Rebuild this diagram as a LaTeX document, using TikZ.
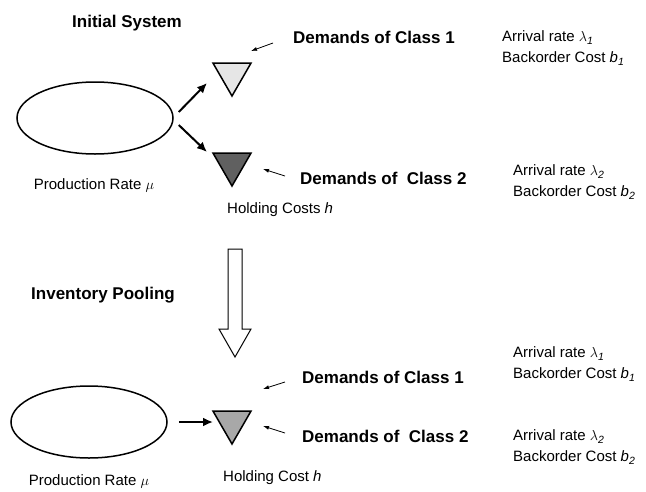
\documentclass[tikz,border=0pt]{standalone}
\usepackage{fontspec}
\setmainfont{Liberation Sans}
\usepackage{amsmath}
\usepackage{xcolor}
\usetikzlibrary{arrows.meta}
\usetikzlibrary{positioning}
\usetikzlibrary{shapes.geometric}

\definecolor{stocklight}{HTML}{E6E6E6}
\definecolor{stockdark}{HTML}{606060}
\definecolor{stockmid}{HTML}{A8A8A8}

\begin{document}
\begin{tikzpicture}[x=1pt, y=-1pt,
        plant/.style={draw, ellipse, line width=1.5pt, minimum width=156pt, minimum height=72pt},
        stock/.style={draw, regular polygon, regular polygon sides=3, shape border rotate=180, line width=1.5pt, inner sep=0pt, minimum size=44pt},
        flow/.style={-{Latex[length=10pt, width=9pt]}, line width=2pt},
        demand/.style={-{Latex[length=6pt, width=4pt]}, line width=0.8pt},
        heading/.style={font=\fontsize{17}{20}\selectfont\bfseries},
        lbl/.style={inner sep=0pt, font=\fontsize{15}{21}\selectfont},
        demlbl/.style={anchor=west, inner sep=0pt, font=\fontsize{17}{20}\selectfont\bfseries},
        parlbl/.style={anchor=west, inner sep=0pt, align=left, font=\fontsize{15}{21}\selectfont}]
    \useasboundingbox (0,0) rectangle (646,491);

    % initial system
    \node[heading] (title1) at (127,23) {Initial System};
    \node[plant] (ell1) at (95,118) {};
    \node[stock, fill=stocklight] (tri1) at (232,74) {};
    \node[stock, fill=stockdark] (tri2) at (232,164) {};
    \node[lbl] (prod1) at (94,185) {Production Rate $\mu$};
    \node[lbl, anchor=west] (hold1) at (227,210) {Holding Costs \textit{h}};
    \node[demlbl] (dem1) at (293,37) {Demands of Class 1};
    \node[demlbl] (dem2) at (300,178) {Demands of\ \ Class 2};
    \node[parlbl] (par1) at (502,48) {Arrival rate $\lambda$\textsubscript{\textit{1}}\\Backorder Cost \textit{b}\textsubscript{\textit{1}}};
    \node[parlbl] (par2) at (513,182) {Arrival rate $\lambda$\textsubscript{\textit{2}}\\Backorder Cost \textit{b}\textsubscript{\textit{2}}};

    \draw[flow] ([shift={(5,-6)}]ell1.east) -- ([shift={(-25,9)}]tri1.center);
    \draw[flow] ([shift={(5,7)}]ell1.east) -- ([shift={(-25,-12)}]tri2.center);
    \draw[demand] ([shift={(-20,6)}]dem1.west) -- ([shift={(19,-23)}]tri1.center);
    \draw[demand] ([shift={(-15,-2)}]dem2.west) -- ([shift={(31,5)}]tri2.center);

    % pooling step
    \coordinate (pooltop) at (235,249);
    \coordinate (poolend) at (235,357);
    \draw[line width=1pt, fill=white] ([xshift=-7]pooltop) -- ++(14,0) -- ++(0,80) -- ++(9,0) -- (poolend) -- ++(-16,-28) -- ++(9,0) -- cycle;
    \node[heading] (title2) at (103,295) {Inventory Pooling};

    % pooled system
    \node[plant] (ell2) at (89,422) {};
    \node[stock, fill=stockmid] (tri3) at (232,422) {};
    \node[lbl] (prod2) at (89,481) {Production Rate $\mu$};
    \node[lbl, anchor=west] (hold2) at (223,478) {Holding Cost \textit{h}};
    \node[demlbl] (dem3) at (302,377) {Demands of Class 1};
    \node[demlbl] (dem4) at (302,436) {Demands of\ \ Class 2};
    \node[parlbl] (par3) at (513,364) {Arrival rate $\lambda$\textsubscript{\textit{1}}\\Backorder Cost \textit{b}\textsubscript{\textit{1}}};
    \node[parlbl] (par4) at (513,447) {Arrival rate $\lambda$\textsubscript{\textit{2}}\\Backorder Cost \textit{b}\textsubscript{\textit{2}}};

    \draw[flow] ([xshift=11]ell2.east) -- ([xshift=-19]tri3.center);
    \draw[demand] ([shift={(-17,5)}]dem3.west) -- ([shift={(31,-33)}]tri3.center);
    \draw[demand] ([shift={(-17,-3)}]dem4.west) -- ([shift={(31,4)}]tri3.center);
\end{tikzpicture}
\end{document}
